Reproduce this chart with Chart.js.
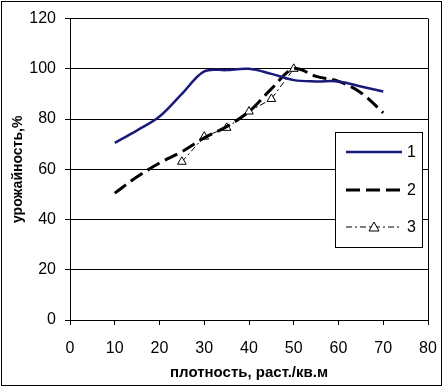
<!DOCTYPE html>
<html>
<head>
<meta charset="utf-8">
<script src="https://cdn.jsdelivr.net/npm/chart.js@4"></script>
<style>
  body { margin: 0; background: #fff; }
  #wrap { position: relative; width: 445px; height: 388px; }
  #frame { position: absolute; left: 1px; top: 1px; width: 439px; height: 383px; border: 1px solid #000; pointer-events: none; }
</style>
</head>
<body>
<div id="wrap">
  <canvas id="yieldChart" width="445" height="388"></canvas>
  <div id="frame"></div>
</div>
<script>
// density, plants per sq.m
const density = [10, 15, 20, 25, 30, 35, 40, 45, 50, 55, 60, 65, 70];
const yield1 = [70.5, 75.5, 81, 90, 99, 99.5, 100, 98, 95.5, 95, 95, 93, 91];
const yield2 = [50.5, 57, 62.5, 67, 72.5, 77, 83, 92, 100, 97, 95, 90.5, 82.5];
const density3 = [25, 30, 35, 40, 45, 50];
const yield3 = [63, 73, 76.5, 83, 88, 100];
const seriesNames = ['1', '2', '3'];
const xTicks = [0, 10, 20, 30, 40, 50, 60, 70, 80];
const yTicks = [0, 20, 40, 60, 80, 100, 120];

const toPoints = (xs, ys) => xs.map((x, i) => ({ x: x, y: ys[i] }));

// legend drawn inside the plot, like the original
const boxLegend = {
  id: 'boxLegend',
  afterDraw(chart) {
    const c = chart.ctx;
    const x0 = 335, y0 = 132, w = 87, h = 115;
    c.save();
    c.fillStyle = '#fff';
    c.fillRect(x0, y0, w, h);
    c.strokeStyle = '#000';
    c.lineWidth = 1;
    c.strokeRect(x0 + 0.5, y0 + 0.5, w, h);
    const rows = [152, 190, 227];
    chart.data.datasets.forEach((ds, i) => {
      const y = rows[i];
      c.beginPath();
      c.setLineDash(ds.borderDash || []);
      c.strokeStyle = ds.borderColor;
      c.lineWidth = ds.borderWidth;
      c.moveTo(346, y);
      c.lineTo(402, y);
      c.stroke();
      c.setLineDash([]);
      if (ds.pointStyle === 'triangle') {
        const r = 5;
        c.beginPath();
        c.moveTo(374, y - r);
        c.lineTo(374 + r, y + r * 0.8);
        c.lineTo(374 - r, y + r * 0.8);
        c.closePath();
        c.fillStyle = '#fff';
        c.fill();
        c.lineWidth = 1;
        c.strokeStyle = '#000';
        c.stroke();
      }
      c.fillStyle = '#000';
      c.font = '16px "Liberation Sans", Arial, sans-serif';
      c.textBaseline = 'middle';
      c.fillText(seriesNames[i], 407, y + 1);
    });
    c.restore();
  }
};

const ctx = document.getElementById('yieldChart').getContext('2d');
new Chart(ctx, {
  type: 'line',
  data: {
    datasets: [
      {
        label: seriesNames[0],
        data: toPoints(density, yield1),
        borderColor: '#1a1a7a',
        borderWidth: 2.5,
        pointRadius: 0,
        tension: 0.35,
        fill: false
      },
      {
        label: seriesNames[1],
        data: toPoints(density, yield2),
        borderColor: '#000',
        borderWidth: 3,
        borderDash: [14, 6],
        pointRadius: 0,
        tension: 0.35,
        fill: false
      },
      {
        label: seriesNames[2],
        data: toPoints(density3, yield3),
        borderColor: '#000',
        borderWidth: 1,
        borderDash: [6, 3, 2, 3],
        pointStyle: 'triangle',
        pointRadius: 5,
        pointBackgroundColor: '#fff',
        pointBorderColor: '#000',
        pointBorderWidth: 1,
        tension: 0,
        fill: false
      }
    ]
  },
  options: {
    responsive: false,
    animation: false,
    layout: { padding: { left: 0, top: 18, right: 17, bottom: 0 } },
    plugins: { legend: { display: false }, tooltip: { enabled: false } },
    scales: {
      x: {
        type: 'linear',
        min: 0,
        max: 80,
        afterBuildTicks: (s) => { s.ticks = xTicks.map(v => ({ value: v })); },
        afterFit: (s) => {
          s.height = 68;
          s.paddingLeft = 0;
          s.paddingRight = 0;
        },
        grid: {
          drawOnChartArea: true,
          color: (c) => (c.tick && c.tick.value === 80 ? '#000' : 'rgba(0,0,0,0)'),
          tickColor: '#000',
          tickLength: 5
        },
        border: { color: '#000', width: 1 },
        ticks: {
          color: '#000',
          padding: 14,
          maxRotation: 0,
          font: { family: '"Liberation Sans", Arial, sans-serif', size: 16 }
        },
        title: {
          display: true,
          text: 'плотность, раст./кв.м',
          color: '#000',
          padding: { top: 0, bottom: 6 },
          font: { family: '"Liberation Sans", Arial, sans-serif', size: 15, weight: 'bold' }
        }
      },
      y: {
        min: 0,
        max: 120,
        afterBuildTicks: (s) => { s.ticks = yTicks.map(v => ({ value: v })); },
        afterFit: (s) => { s.width = 70; },
        grid: { color: '#000', tickColor: '#000', tickLength: 5 },
        border: { color: '#000', width: 1 },
        ticks: {
          color: '#000',
          padding: 9,
          font: { family: '"Liberation Sans", Arial, sans-serif', size: 16 }
        },
        title: {
          display: true,
          text: 'урожайность,%',
          color: '#000',
          padding: { top: 10, bottom: 0 },
          font: { family: '"Liberation Sans", Arial, sans-serif', size: 14, weight: 'bold' }
        }
      }
    }
  },
  plugins: [boxLegend]
});
</script>
</body>
</html>
